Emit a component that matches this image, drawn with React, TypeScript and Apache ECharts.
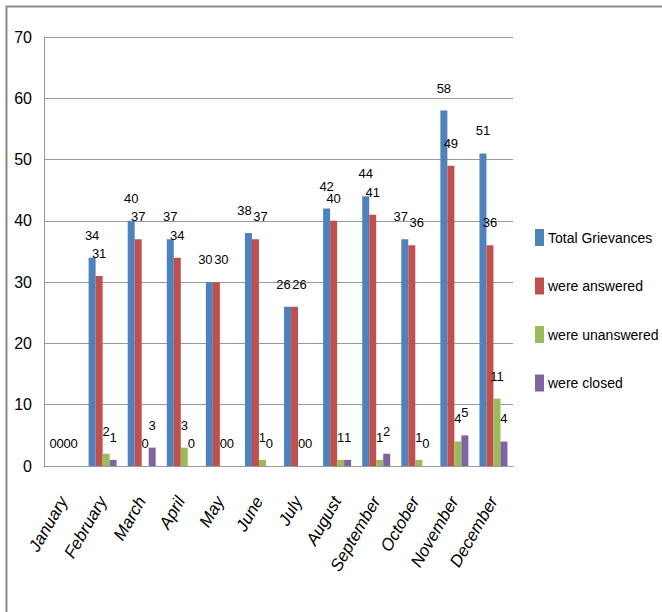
import React, { useEffect, useRef } from "react";
import * as echarts from "echarts";

const months = ["January", "February", "March", "April", "May", "June", "July", "August", "September", "October", "November", "December"];
const totalGrievances = [0, 34, 40, 37, 30, 38, 26, 42, 44, 37, 58, 51];
const wereAnswered = [0, 31, 37, 34, 30, 37, 26, 40, 41, 36, 49, 36];
const wereUnanswered = [0, 2, 0, 3, 0, 1, 0, 1, 1, 1, 4, 11];
const wereClosed = [0, 1, 3, 0, 0, 0, 0, 1, 2, 0, 5, 4];
const seriesNames = ["Total Grievances", "were answered", "were unanswered", "were closed"];
const colors = ["#4F81BD", "#C0504D", "#9BBB59", "#8064A2"];

const FONT = "'Liberation Sans', Arial, sans-serif";

export default function App() {
  const ref = useRef<HTMLDivElement>(null);
  useEffect(() => {
    if (!ref.current) return;
    const chart = echarts.init(ref.current, undefined, { renderer: "svg" });
    const data = [totalGrievances, wereAnswered, wereUnanswered, wereClosed];
    // nudge labels of the first two bars apart when their values are close (Excel-like)
    const close = totalGrievances.map((t, k) => t > 5 && Math.abs(t - wereAnswered[k]) <= 1);
    const seriesData = data.map((arr, i) =>
      arr.map((v, k) => {
        if (close[k] && i === 0) return { value: v, label: { offset: [-4, 0] } };
        if (close[k] && i === 1) return { value: v, label: { offset: [5, 0] } };
        return v;
      })
    );
    chart.setOption({
      animation: false,
      backgroundColor: "#ffffff",
      color: colors,
      grid: { left: 44, top: 37, right: 149, bottom: 146, containLabel: false },
      legend: {
        orient: "vertical",
        left: 535,
        top: 229,
        padding: 0,
        itemWidth: 9,
        itemHeight: 17,
        itemGap: 31.5,
        icon: "rect",
        textStyle: { fontFamily: FONT, fontSize: 14, color: "#000", padding: [0, 0, 0, -1] },
        data: seriesNames,
      },
      xAxis: {
        type: "category",
        data: months,
        axisLine: { lineStyle: { color: "#999", width: 1 } },
        axisTick: { show: false },
        axisLabel: {
          rotate: 60,
          interval: 0,
          margin: 32,
          fontFamily: FONT,
          fontStyle: "italic",
          fontSize: 17,
          color: "#000",
        },
      },
      yAxis: {
        type: "value",
        min: 0,
        max: 70,
        interval: 10,
        axisLine: { show: true, lineStyle: { color: "#999" } },
        axisTick: { show: false },
        splitLine: { lineStyle: { color: "#999", width: 1 } },
        axisLabel: { fontFamily: FONT, fontSize: 16, color: "#000", margin: 12 },
      },
      graphic: [
        {
          type: "rect",
          shape: { x: 6.5, y: 6.5, width: 800, height: 800 },
          style: { fill: "none", stroke: "#8c8c8c", lineWidth: 2 },
          silent: true,
        },
      ],
      series: seriesNames.map((name, i) => ({
        name,
        type: "bar",
        data: seriesData[i],
        barWidth: 7,
        barGap: "0%",
        barCategoryGap: "28%",
        itemStyle: { color: colors[i] },
        label: {
          show: true,
          position: "top",
          distance: 16,
          fontFamily: FONT,
          fontSize: 13,
          color: "#000",
        },
      })),
    });
    return () => chart.dispose();
  }, []);
  return <div ref={ref} style={{ position: "fixed", left: 0, top: 0, width: 662, height: 612 }} />;
}
